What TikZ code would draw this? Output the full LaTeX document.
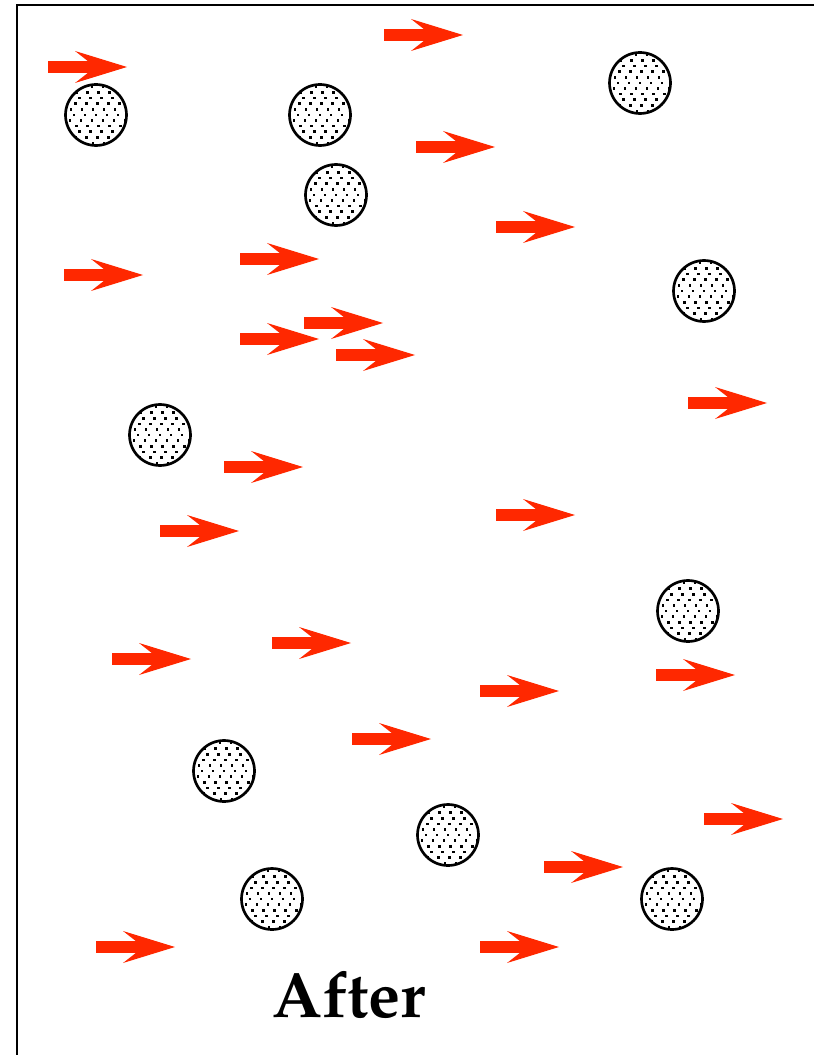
\documentclass[tikz,border=0pt]{standalone}
\usepackage[T1]{fontenc}
\definecolor{arrowred}{RGB}{255,40,0}
\tikzset{
  arr/.pic={\fill[arrowred] (0,-5.8) -- (40,-5.8) -- (27,-16) -- (79,0) -- (27,16) -- (40,5.8) -- (0,5.8) -- cycle;},
  particle/.pic={
    \begin{scope}
      \clip (0,0) circle (29.5);
      \foreach \j in {0,...,12} {
        \foreach \i in {-4,...,4} {
          \fill[black] ({\i*11+mod(\j,2)*5.5+mod(\j,3)*1.3-1.3},{(\j-6)*5.6-1.3}) rectangle +(2.6,2.6);
        }
      }
    \end{scope}
    \draw[line width=2pt] (0,0) circle (30.5);
  },
  frame/.style={line width=2.2pt, line cap=rect},
  label/.style={font=\fontfamily{ppl}\fontseries{b}\fontsize{48}{56}\selectfont, anchor=base, inner sep=0pt}
}
\begin{document}
\begin{tikzpicture}[x=0.75pt,y=-0.75pt]
\useasboundingbox (0,0) rectangle (813,1055);
\draw[frame] (17,1056) -- (17,5) -- (814,5);
% particles
\foreach \px/\py in {96/115, 320/115, 640/83, 336/195, 704/291, 160/435, 688/611, 224/771, 448/835, 272/899, 672/899}
  \pic at (\px,\py) {particle};
% arrows (tail x, centre y)
\foreach \ax/\ay in {48/67, 384/35, 416/147, 496/227, 64/275, 240/259, 240/339, 304/323, 336/355, 688/403, 224/467, 160/531, 496/515, 112/659, 272/643, 480/691, 656/675, 352/739, 704/819, 544/867, 96/947, 480/947}
  \pic at (\ax,\ay) {arr};
\node[label] (after) at (349,1017) {After};
\end{tikzpicture}
\end{document}
